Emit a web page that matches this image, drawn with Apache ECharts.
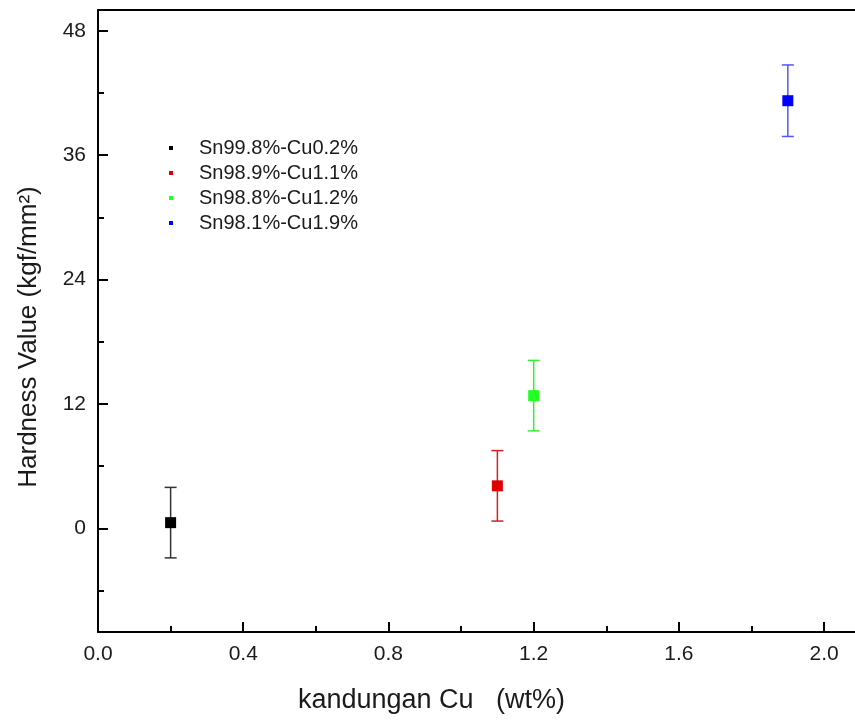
<!DOCTYPE html>
<html>
<head>
<meta charset="utf-8">
<script src="https://cdn.jsdelivr.net/npm/echarts@6/dist/echarts.min.js"></script>
<style>
html,body{margin:0;padding:0;background:#fff;}
#chart{width:855px;height:720px;}
</style>
</head>
<body>
<div id="chart"></div>
<script>
// ---- data ----
var seriesNames = ['Sn99.8%-Cu0.2%', 'Sn98.9%-Cu1.1%', 'Sn98.8%-Cu1.2%', 'Sn98.1%-Cu1.9%'];
var cuContent = [0.2, 1.1, 1.2, 1.9];
var hardness = [0.55, 4.1, 12.8, 41.25];
var hardnessErr = [3.4, 3.4, 3.4, 3.45];
var xTicks = [0, 0.4, 0.8, 1.2, 1.6, 2.0];
var xMinorTicks = [0.2, 0.6, 1.0, 1.4, 1.8];
var yTicks = [0, 12, 24, 36, 48];
var yMinorTicks = [-6, 6, 18, 30, 42];

// ---- styles ----
var markColors = ['#000000', '#e00000', '#22ff22', '#0000ff'];
var barColors = ['#333333', '#d02020', '#33ee33', '#5555ff'];
var FONT = '"Liberation Sans", Arial, sans-serif';
var TXT = '#1a1a1a';
var X_MAX = 2.085;

var chart = echarts.init(document.getElementById('chart'), null, {renderer: 'canvas'});

var scatterSeries = seriesNames.map(function (n, i) {
  return {
    name: n,
    type: 'scatter',
    symbol: 'rect',
    symbolSize: 11,
    z: 5,
    itemStyle: {color: markColors[i], opacity: 1},
    data: [[cuContent[i], hardness[i]]]
  };
});

var errData = cuContent.map(function (x, i) {
  return [x, hardness[i] - hardnessErr[i], hardness[i] + hardnessErr[i], i];
});

var errSeries = {
  type: 'custom',
  name: 'err',
  z: 3,
  silent: true,
  data: errData,
  renderItem: function (params, api) {
    var x = api.value(0);
    var lo = api.coord([x, api.value(1)]);
    var hi = api.coord([x, api.value(2)]);
    var idx = api.value(3);
    var c = barColors[idx];
    var hw = 6;
    var st = {stroke: c, lineWidth: 1.5, fill: null};
    return {
      type: 'group',
      children: [
        {type: 'line', shape: {x1: lo[0], y1: lo[1], x2: hi[0], y2: hi[1]}, style: st},
        {type: 'line', shape: {x1: lo[0] - hw, y1: lo[1], x2: lo[0] + hw, y2: lo[1]}, style: st},
        {type: 'line', shape: {x1: hi[0] - hw, y1: hi[1], x2: hi[0] + hw, y2: hi[1]}, style: st}
      ]
    };
  }
};

var axisLineStyle = {color: '#000', width: 2};

var option = {
  animation: false,
  backgroundColor: '#ffffff',
  textStyle: {fontFamily: FONT},
  grid: {left: 98, top: 10, right: 0, bottom: 88, containLabel: false},
  legend: {
    data: seriesNames,
    orient: 'vertical',
    left: 164,
    top: 133,
    icon: 'rect',
    itemWidth: 4,
    itemHeight: 4,
    itemGap: 5,
    selectedMode: false,
    textStyle: {fontFamily: FONT, fontSize: 20, color: TXT, padding: [0, 0, 0, 21]}
  },
  xAxis: [
    {
      type: 'value', position: 'bottom', min: 0, max: X_MAX,
      name: 'kandungan Cu   (wt%)', nameLocation: 'middle', nameGap: 55,
      nameTextStyle: {fontFamily: FONT, fontSize: 27, color: TXT, padding: [0, 90, 0, 0]},
      axisLine: {show: true, onZero: false, lineStyle: axisLineStyle},
      axisTick: {show: true, inside: true, length: 10, customValues: xTicks, lineStyle: {color: '#000', width: 2}},
      axisLabel: {customValues: xTicks, fontFamily: FONT, fontSize: 21, color: TXT, margin: 12,
        formatter: function (v) { return Number(v).toFixed(1); }},
      splitLine: {show: false}
    },
    {
      type: 'value', position: 'bottom', min: 0, max: X_MAX,
      axisLine: {show: false, onZero: false},
      axisTick: {show: true, inside: true, length: 6, customValues: xMinorTicks, lineStyle: {color: '#000', width: 2}},
      axisLabel: {show: false},
      splitLine: {show: false}
    },
    {
      type: 'value', position: 'top', min: 0, max: X_MAX,
      axisLine: {show: true, onZero: false, lineStyle: axisLineStyle},
      axisTick: {show: false}, axisLabel: {show: false}, splitLine: {show: false}
    }
  ],
  yAxis: [
    {
      type: 'value', position: 'left', min: -10, max: 50,
      name: 'Hardness Value (kgf/mm²)', nameLocation: 'middle', nameGap: 56, nameRotate: 90,
      nameTextStyle: {fontFamily: FONT, fontSize: 26, color: TXT, padding: [0, 32, 0, 0]},
      axisLine: {show: true, onZero: false, lineStyle: axisLineStyle},
      axisTick: {show: true, inside: true, length: 10, customValues: yTicks, lineStyle: {color: '#000', width: 2}},
      axisLabel: {customValues: yTicks, fontFamily: FONT, fontSize: 21, color: TXT, margin: 12},
      splitLine: {show: false}
    },
    {
      type: 'value', position: 'left', min: -10, max: 50,
      axisLine: {show: false, onZero: false},
      axisTick: {show: true, inside: true, length: 6, customValues: yMinorTicks, lineStyle: {color: '#000', width: 2}},
      axisLabel: {show: false},
      splitLine: {show: false}
    }
  ],
  series: [errSeries].concat(scatterSeries)
};

chart.setOption(option);
</script>
</body>
</html>
